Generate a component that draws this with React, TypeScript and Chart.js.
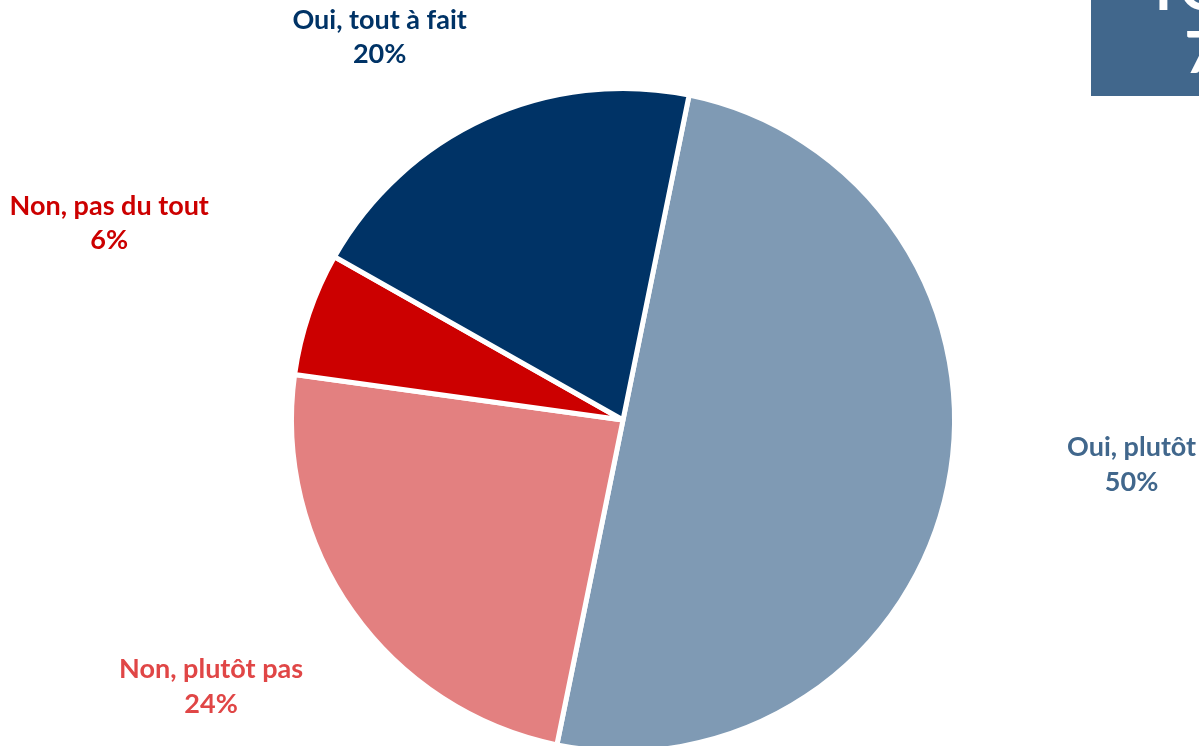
import React, { useEffect, useRef } from "react";
import { Chart, registerables } from "chart.js";

Chart.register(...registerables);

const categories = ["Oui, plutôt", "Non, plutôt pas", "Non, pas du tout", "Oui, tout à fait"];
const values = [50, 24, 6, 20];
const sliceColors = ["#7F9AB4", "#E38080", "#CC0000", "#003366"];
const labelColors = ["#41678C", "#E04646", "#CC0000", "#003366"];
// label placement: radius factor (x outer radius), angle offset (deg) from slice middle
const labelRadius = [1.54, 1.48, 1.66, 1.37];
const labelAngleOffset = [-6.5, 2.4, 2.3, -7.9];
const totalLabel = ["TOTAL", "70%"];

const labelPlugin = {
  id: "sliceLabels",
  afterDraw(chart: any) {
    const ctx = chart.ctx;
    const meta = chart.getDatasetMeta(0);
    ctx.save();
    ctx.font = "bold 27px Lato";
    ctx.textAlign = "center";
    ctx.textBaseline = "alphabetic";
    meta.data.forEach((arc: any, i: number) => {
      const p = arc.getProps(["x", "y", "startAngle", "endAngle", "outerRadius"], true);
      const a = (p.startAngle + p.endAngle) / 2 + (labelAngleOffset[i] * Math.PI) / 180;
      const d = p.outerRadius * labelRadius[i];
      const x = p.x + d * Math.cos(a);
      const y = p.y + d * Math.sin(a);
      ctx.fillStyle = labelColors[i];
      ctx.fillText(categories[i], x, y - 8);
      ctx.fillText(Math.round(values[i]) + "%", x, y + 26.5);
    });
    // total box
    ctx.fillStyle = "#41678C";
    ctx.fillRect(1091, 0, 300, 96);
    ctx.fillStyle = "#FFFFFF";
    ctx.font = "bold 58px Lato";
    ctx.fillText(totalLabel[0], 1236, 10);
    ctx.fillText(totalLabel[1], 1242, 73);
    ctx.restore();
  },
};

export default function App() {
  const ref = useRef<HTMLCanvasElement>(null);
  useEffect(() => {
    document.body.style.margin = "0";
    const chart = new Chart(ref.current!, {
      type: "pie",
      data: {
        labels: categories,
        datasets: [
          {
            data: values,
            backgroundColor: sliceColors,
            borderColor: "#FFFFFF",
            borderWidth: 5,
          },
        ],
      },
      options: {
        responsive: false,
        animation: false,
        rotation: 11.5,
        layout: { padding: { left: 289, right: 242, top: 86, bottom: 46 } },
        plugins: { legend: { display: false }, tooltip: { enabled: false } },
      },
      plugins: [labelPlugin],
    });
    return () => chart.destroy();
  }, []);
  return (
    <div style={{ position: "fixed", left: 0, top: 0, width: 1199, height: 746, overflow: "hidden", background: "#fff" }}>
      <canvas ref={ref} width={1199} height={800} style={{ display: "block" }} />
    </div>
  );
}
